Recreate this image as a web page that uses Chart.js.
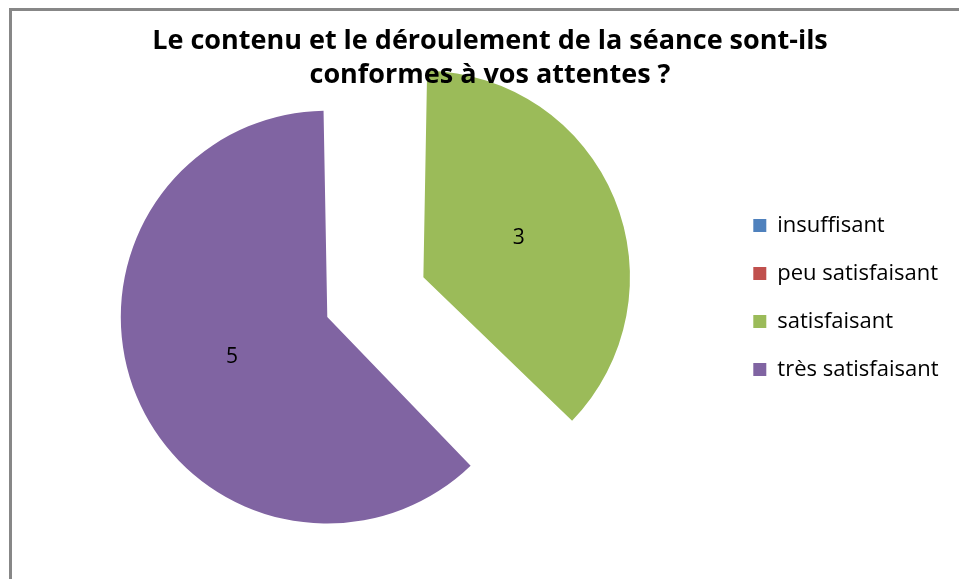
<!DOCTYPE html>
<html lang="fr">
<head>
<meta charset="utf-8">
<title>Séance</title>
<script src="https://cdn.jsdelivr.net/npm/chart.js@4/dist/chart.umd.min.js"></script>
<style>
  html, body { margin: 0; padding: 0; background: #fff; overflow: hidden; }
  #wrap { position: relative; width: 959px; height: 579px; overflow: hidden; }
  /* le canevas déborde un peu à gauche pour placer le camembert comme dans Excel */
  #myChart { position: absolute; left: -30px; top: 0; }
  #frame {
    position: absolute; left: 9px; top: 8px; width: 1000px; height: 600px;
    border-top: 3px solid #878787; border-left: 3px solid #878787;
    pointer-events: none;
  }
  #titre {
    position: absolute; left: 90px; top: 22px; width: 800px;
    text-align: center; font: bold 27px/34px "Open Sans", sans-serif; color: #000;
    pointer-events: none;
  }
</style>
</head>
<body>
<div id="wrap">
  <canvas id="myChart" width="989" height="579"></canvas>
  <div id="frame"></div>
  <div id="titre">Le contenu et le déroulement de la séance sont-ils<br>conformes à vos attentes ?</div>
</div>
<script>
// données
var categories = ['insuffisant', 'peu satisfaisant', 'satisfaisant', 'très satisfaisant'];
var responses = [0, 0, 3, 5];
var sliceColors = ['#4F81BD', '#C0504D', '#9BBB59', '#8064A2'];

// largeur de la légende (pour caler la zone du graphique)
var canvasW = 989;
var legendFont = 22;
var m = document.createElement('canvas').getContext('2d');
m.font = legendFont + 'px "Open Sans"';
var textW = 0;
for (var i = 0; i < categories.length; i++) {
    textW = Math.max(textW, m.measureText(categories[i]).width);
}
var legendPad = 26, boxW = 13;
var legendW = 10 + legendPad + boxW + legendFont / 2 + textW;
var legendLeft = 757.3;
var padRight = canvasW - legendLeft - legendW;

// étiquettes de valeurs au milieu des parts (décalées)
const valueLabels = {
    id: 'valueLabels',
    afterDatasetsDraw(chart) {
        const ctx = chart.ctx;
        const meta = chart.getDatasetMeta(0);
        ctx.save();
        ctx.font = '21px "Open Sans"';
        ctx.fillStyle = '#000';
        ctx.textAlign = 'center';
        ctx.textBaseline = 'middle';
        meta.data.forEach(function (arc, i) {
            var v = responses[i];
            if (!v) return;
            var circ = arc.endAngle - arc.startAngle;
            var mid = (arc.startAngle + arc.endAngle) / 2;
            var t = (arc.options.offset || 0) / 4;
            var fix = 1 - Math.sin(Math.min(Math.PI, circ));
            var rr = arc.outerRadius + t * fix;
            var d = t + rr / 2;
            ctx.fillText(String(v), arc.x + Math.cos(mid) * d, arc.y + Math.sin(mid) * d);
        });
        ctx.restore();
    }
};

var ctx = document.getElementById('myChart').getContext('2d');
var myChart = new Chart(ctx, {
    type: 'pie',
    data: {
        labels: categories,
        datasets: [{
            data: responses,
            backgroundColor: sliceColors,
            borderWidth: 0,
            offset: [0, 0, 322, 94],
            radius: 183
        }]
    },
    options: {
        responsive: false,
        animation: false,
        cutout: '0%',
        layout: {
            padding: { left: 0.7, right: padRight, top: 188.5, bottom: 151.3 }
        },
        plugins: {
            legend: {
                position: 'right',
                align: 'start',
                labels: {
                    color: '#000',
                    boxWidth: boxW,
                    boxHeight: 13,
                    padding: legendPad,
                    font: { family: 'Open Sans', size: legendFont }
                }
            },
            tooltip: { enabled: false },
            title: { display: false }
        }
    },
    plugins: [valueLabels]
});
</script>
</body>
</html>
